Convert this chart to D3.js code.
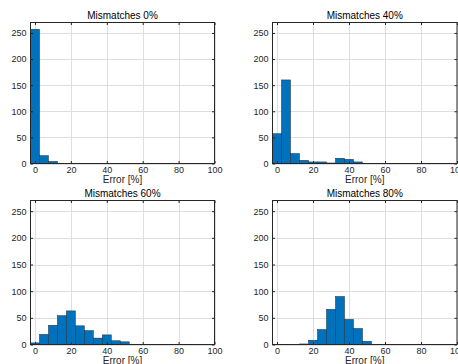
<!DOCTYPE html>
<html>
<head>
<meta charset="utf-8">
<script src="https://cdn.jsdelivr.net/npm/d3@7"></script>
<style>
  body { margin: 0; background: #fff; }
  svg { display: block; font-family: "Liberation Sans", Arial, sans-serif; }
</style>
</head>
<body>
<svg id="chart" width="458" height="364"></svg>
<script>
// histogram bins (centre of each 5% wide bin)
var binCenters = [0, 5, 10, 15, 20, 25, 30, 35, 40, 45, 50, 55];
var counts0  = [257, 15, 4, 0, 0, 0, 0, 0, 0, 0, 0, 0];
var counts40 = [57, 160, 19, 6, 3, 3, 1, 10, 8, 3, 0, 0];
var counts60 = [3, 19, 36, 54, 63, 35, 26, 12, 18, 7, 5, 0];
var counts80 = [0, 0, 0, 1, 8, 28, 66, 90, 47, 30, 6, 0];

var titles = ["Mismatches 0%", "Mismatches 40%", "Mismatches 60%", "Mismatches 80%"];
var xTicks = [0, 20, 40, 60, 80, 100];
var yTicks = [0, 50, 100, 150, 200, 250];
var binWidth = 5;

var panels = [
  { title: titles[0], counts: counts0,  left: 30.5,  right: 214.5, top: 22.5,  bottom: 163.5 },
  { title: titles[1], counts: counts40, left: 272.5, right: 457,   top: 22.5,  bottom: 163.5 },
  { title: titles[2], counts: counts60, left: 30.5,  right: 214.5, top: 200.5, bottom: 344.5 },
  { title: titles[3], counts: counts80, left: 272.5, right: 457,   top: 200.5, bottom: 344.5 }
];

var svg = d3.select('#chart');

panels.forEach(function (p) {
  var x = d3.scaleLinear().domain([-2.5, 100]).range([p.left, p.right]);
  var y = d3.scaleLinear().domain([0, 270]).range([p.bottom, p.top]);

  var g = svg.append('g');

  // grid
  g.selectAll('line.gx').data(xTicks).enter().append('line')
    .attr('x1', function (d) { return Math.round(x(d)) + 0.5; })
    .attr('x2', function (d) { return Math.round(x(d)) + 0.5; })
    .attr('y1', p.top).attr('y2', p.bottom)
    .attr('stroke', '#dedede').attr('stroke-width', 1);
  g.selectAll('line.gy').data(yTicks).enter().append('line')
    .attr('y1', function (d) { return Math.round(y(d)) + 0.5; })
    .attr('y2', function (d) { return Math.round(y(d)) + 0.5; })
    .attr('x1', p.left).attr('x2', p.right)
    .attr('stroke', '#dedede').attr('stroke-width', 1);

  // bars
  var bins = binCenters.map(function (c, i) { return { c: c, n: p.counts[i] }; })
    .filter(function (d) { return d.n > 0; });
  g.selectAll('rect.bar').data(bins).enter().append('rect')
    .attr('x', function (d) { return x(d.c - binWidth / 2); })
    .attr('width', function (d) { return x(d.c + binWidth / 2) - x(d.c - binWidth / 2); })
    .attr('y', function (d) { return y(d.n); })
    .attr('height', function (d) { return y(0) - y(d.n); })
    .attr('fill', '#0072bd')
    .attr('stroke', '#1b2a38')
    .attr('stroke-width', 0.5);

  // box
  g.append('rect')
    .attr('x', p.left).attr('y', p.top)
    .attr('width', p.right - p.left).attr('height', p.bottom - p.top)
    .attr('fill', 'none').attr('stroke', '#262626').attr('stroke-width', 1);

  // axes with inward ticks, mirrored on top/right
  var xAxis = d3.axisBottom(x).tickValues(xTicks).tickSizeInner(-2.5).tickSizeOuter(0).tickPadding(3);
  g.append('g').attr('transform', 'translate(0,' + p.bottom + ')').call(xAxis);
  var yAxis = d3.axisLeft(y).tickValues(yTicks).tickSizeInner(-2.5).tickSizeOuter(0).tickPadding(4);
  g.append('g').attr('transform', 'translate(' + p.left + ',0)').call(yAxis);
  g.append('g').attr('transform', 'translate(0,' + p.top + ')')
    .call(d3.axisTop(x).tickValues(xTicks).tickSizeInner(-2.5).tickSizeOuter(0).tickFormat(''));
  g.append('g').attr('transform', 'translate(' + p.right + ',0)')
    .call(d3.axisRight(y).tickValues(yTicks).tickSizeInner(-2.5).tickSizeOuter(0).tickFormat(''));

  g.selectAll('.domain').remove();
  g.selectAll('.tick line').attr('stroke', '#262626');
  g.selectAll('.tick text').attr('fill', '#262626').style('font-size', '9px').style('font-family', '"Liberation Sans", Arial, sans-serif');

  // title and x label
  var cx = (p.left + p.right) / 2;
  g.append('text')
    .attr('x', cx).attr('y', p.top - 3.5)
    .attr('text-anchor', 'middle')
    .style('font-size', '10px')
    .attr('fill', '#000')
    .text(p.title);
  g.append('text')
    .attr('x', cx).attr('y', p.bottom + 19.5)
    .attr('text-anchor', 'middle')
    .style('font-size', '10px')
    .attr('fill', '#262626')
    .text('Error [%]');
});
</script>
</body>
</html>
